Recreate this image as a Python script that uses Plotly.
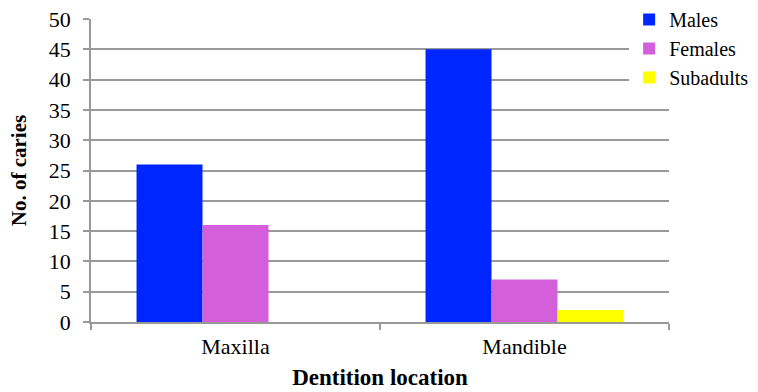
import plotly.graph_objects as go

categories = ["Maxilla", "Mandible"]
males = [26, 45]
females = [16, 7]
subadults = [0, 2]
y_ticks = [0, 5, 10, 15, 20, 25, 30, 35, 40, 45, 50]

FONT = "Liberation Serif"
GRID = "#999999"

fig = go.Figure()
for name, vals, col in [("Males", males, "#0026FF"),
                        ("Females", females, "#D35FDA"),
                        ("Subadults", subadults, "#FFFF00")]:
    fig.add_trace(go.Bar(x=categories, y=vals, name=name, marker_color=col,
                         marker_line_width=0))

fig.update_layout(
    width=758, height=392,
    margin=dict(l=91, r=89, t=19, b=70, autoexpand=False),
    barmode="group", bargap=0.315, bargroupgap=0,
    plot_bgcolor="white", paper_bgcolor="white",
    font=dict(family=FONT, size=22, color="black"),
    legend=dict(xref="container", yref="container", x=0.83, y=1.022,
                xanchor="left", yanchor="top",
                bgcolor="white", font=dict(size=20, family=FONT),
                itemwidth=30, tracegroupgap=0, traceorder="normal"),
    xaxis=dict(showline=True, linecolor=GRID, linewidth=2,
               ticks="outside", tickson="boundaries", ticklen=6,
               tickcolor=GRID, tickwidth=1.5, ticklabelstandoff=4,
               automargin=False,
               title=dict(text="<b>Dentition location</b>", font=dict(size=23), standoff=10)),
    yaxis=dict(range=[0, 50], tickvals=y_ticks, showgrid=True, gridcolor=GRID,
               gridwidth=1.5, showline=True, linecolor=GRID, linewidth=1.5,
               ticks="outside", ticklen=6, tickcolor=GRID, tickwidth=1.5,
               ticklabelstandoff=8, zeroline=False, automargin=False,
               title=dict(text="<b>No. of caries</b>", font=dict(size=21), standoff=16)),
)
fig.write_html("out.html", post_script="document.body.style.margin='0';",
               config={"displayModeBar": False})
